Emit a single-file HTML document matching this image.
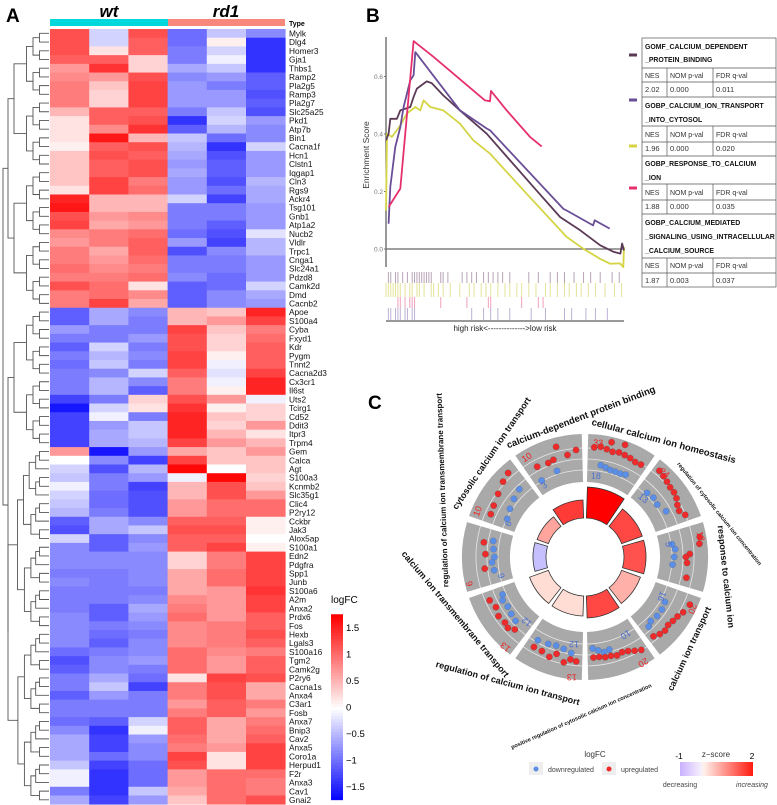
<!DOCTYPE html>
<html><head><meta charset="utf-8"><style>
html,body{margin:0;padding:0;background:#fff;}
svg{display:block;font-family:"Liberation Sans",sans-serif;}
</style></head><body>
<svg id="fig" width="777" height="805" viewBox="0 0 777 805" xmlns="http://www.w3.org/2000/svg">
<g id="pa">
<text x="6" y="22" font-size="19" font-weight="bold">A</text>
<text x="109" y="17" font-size="17" font-weight="bold" font-style="italic" text-anchor="middle">wt</text>
<text x="226" y="17" font-size="17" font-weight="bold" font-style="italic" text-anchor="middle">rd1</text>
<rect x="50" y="19" width="118" height="7" fill="#00d8dc"/>
<rect x="168" y="19" width="117" height="7" fill="#f8877c"/>
<text x="289" y="26" font-size="7" font-weight="bold">Type</text>
</g>
<g id="pb">
<text x="366" y="22" font-size="19" font-weight="bold">B</text>
</g>
<g id="pc">
<text x="368" y="409" font-size="19" font-weight="bold">C</text>
</g>
</svg>
<script>
// ---------- Panel A data ----------
const genes=["Mylk","Dlg4","Homer3","Gja1","Thbs1","Ramp2","Pla2g5","Ramp3","Pla2g7","Slc25a25","Pkd1","Atp7b","Bin1","Cacna1f","Hcn1","Clstn1","Iqgap1","Cln3","Rgs9","Ackr4","Tsg101","Gnb1","Atp1a2","Nucb2","Vldlr","Trpc1","Cnga1","Slc24a1","Pdzd8","Camk2d","Dmd","Cacnb2","Apoe","S100a4","Cyba","Fxyd1","Kdr","Pygm","Tnnt2","Cacna2d3","Cx3cr1","Il6st","Uts2","Tcirg1","Cd52","Ddit3","Itpr3","Trpm4","Gem","Calca","Agt","S100a3","Kcnmb2","Slc35g1","Clic4","P2ry12","Cckbr","Jak3","Alox5ap","S100a1","Edn2","Pdgfra","Spp1","Junb","S100a6","A2m","Anxa2","Prdx6","Fos","Hexb","Lgals3","S100a16","Tgm2","Camk2g","P2ry6","Cacna1s","Anxa4","C3ar1","Fosb","Anxa7","Bnip3","Cav2","Anxa5","Coro1a","Herpud1","F2r","Anxa3","Cav1","Gnai2"];
const logfc=[
[1.2,-0.3,1.2,-1.0,-0.4,-0.8],[1.2,-0.3,1.1,-1.0,0.1,-1.4],[1.2,0.2,1.1,-0.9,-0.3,-1.4],[1.1,1.1,0.3,-0.9,-0.1,-1.4],[0.7,1.4,0.3,-0.6,-0.4,-1.4],
[0.8,0.7,1.2,-0.8,-0.7,-1.1],[0.9,0.4,1.3,-0.7,-0.9,-1.1],[0.9,0.3,1.3,-0.7,-0.7,-1.2],[0.9,0.3,1.3,-0.7,-0.7,-1.1],[0.5,1.1,1.1,-0.9,-0.4,-1.2],
[0.2,1.1,1.2,-1.4,-0.3,-0.7],[0.2,0.8,1.4,-1.1,-0.5,-0.8],[0.2,1.6,0.5,-0.4,-1.0,-0.8],[0.1,1.1,1.2,-0.5,-1.4,-0.3],[0.4,1.2,1.1,-0.6,-1.2,-0.7],
[0.4,1.1,1.2,-0.7,-1.1,-0.7],[0.4,1.1,1.2,-0.6,-1.1,-0.7],[0.4,1.3,0.9,-0.7,-1.2,-0.5],[0.2,1.3,1.0,-0.7,-1.0,-0.6],[1.5,0.5,0.5,-0.3,-1.3,-0.6],
[1.6,0.5,0.5,-0.9,-0.9,-0.7],[1.2,0.7,0.8,-0.9,-0.9,-0.7],[1.3,0.6,0.7,-0.9,-1.1,-0.7],[0.8,0.9,1.0,-1.0,-1.2,-0.2],[0.7,0.9,1.1,-0.7,-1.3,-0.5],
[0.9,0.6,1.1,-1.2,-0.8,-0.5],[0.9,0.7,1.0,-0.9,-0.9,-0.7],[1.0,0.8,0.9,-0.9,-0.9,-0.7],[0.9,0.9,1.0,-0.8,-1.0,-0.7],[1.2,1.0,0.2,-1.1,-1.0,-0.3],
[0.9,1.0,0.8,-1.1,-0.8,-0.6],[0.9,1.3,0.6,-1.1,-0.8,-0.7],[-1.1,-0.6,-0.8,0.5,0.4,1.5],[-1.1,-0.6,-0.9,0.5,0.7,1.3],[-0.7,-0.9,-0.9,1.3,0.4,0.9],
[-0.9,-0.9,-0.7,1.2,0.3,1.0],[-1.1,-0.3,-0.9,1.2,0.3,1.1],[-0.9,-0.5,-0.8,1.3,0.1,1.1],[-1.0,-0.4,-0.9,1.3,-0.1,1.1],[-0.9,-0.8,-0.3,1.1,-0.2,1.3],
[-0.9,-0.5,-0.8,0.9,-0.1,1.5],[-0.9,-0.5,-1.1,0.9,0.1,1.5],[-1.3,-0.9,0.3,1.2,0.7,-0.1],[-1.6,-0.3,0.2,1.4,0.1,0.3],[-1.3,-0.1,-0.9,1.5,0.4,0.3],
[-1.3,-0.7,-0.4,1.5,0.3,0.7],[-1.3,-0.6,-0.4,1.5,0.5,0.2],[-1.3,-0.6,-0.5,1.3,0.7,0.5],[0.7,-1.6,-0.7,0.6,0.4,0.7],[0.0,-0.8,-1.3,1.3,0.4,0.4],
[-0.3,-1.2,-0.5,1.7,0.0,0.4],[-0.4,-0.9,-0.7,-0.1,1.7,0.3],[-0.1,-0.9,-1.3,0.5,1.2,0.4],[-0.3,-1.0,-1.2,0.5,1.2,0.7],[-0.4,-1.0,-1.2,0.7,1.0,1.0],
[-0.5,-0.9,-1.2,0.7,1.0,1.0],[-1.1,-0.6,-0.8,1.1,1.1,0.1],[-1.2,-0.6,-0.4,1.2,1.2,0.1],[-0.3,-1.1,-0.8,1.1,1.1,0.0],[-0.8,-1.1,-0.7,1.1,1.3,0.1],
[-0.8,-0.8,-0.8,0.3,0.9,1.3],[-0.8,-0.8,-0.8,0.3,0.9,1.3],[-0.9,-0.9,-0.8,0.6,1.0,1.3],[-0.8,-0.9,-0.8,0.6,1.0,1.3],[-0.9,-0.9,-0.9,0.6,0.7,1.4],
[-0.9,-0.9,-0.8,0.8,0.7,1.3],[-0.9,-1.1,-0.6,0.9,0.7,1.3],[-0.8,-1.1,-0.7,1.0,0.7,1.1],[-0.8,-0.9,-0.8,0.8,0.9,1.1],[-0.8,-1.0,-0.9,0.8,0.9,1.2],
[-0.8,-1.1,-0.8,0.8,0.9,1.1],[-1.0,-0.9,-0.8,1.0,0.8,0.9],[-1.2,-0.8,-0.7,1.0,0.7,1.1],[-1.1,-0.8,-0.9,1.0,0.7,1.1],[-0.9,-0.6,-1.0,0.2,1.3,1.2],
[-0.9,-0.4,-1.3,0.9,1.2,0.6],[-1.1,-0.7,-0.9,0.9,1.2,0.6],[-0.9,-0.9,-0.9,0.7,1.1,0.9],[-0.9,-0.9,-0.9,0.9,1.1,0.7],[-1.0,-1.1,-0.3,1.1,0.6,0.9],
[-0.8,-1.4,-0.1,1.1,0.6,1.0],[-0.6,-1.3,-0.7,1.0,0.6,1.1],[-0.6,-1.3,-0.8,0.9,0.7,1.3],[-0.6,-1.0,-0.8,1.3,0.2,1.3],[-0.4,-1.3,-1.0,1.2,0.2,1.3],
[-0.1,-1.4,-1.0,0.7,1.0,1.0],[-0.1,-1.4,-1.0,0.7,1.0,0.9],[-0.9,-1.4,-0.4,0.6,1.0,0.9],[-0.6,-1.3,-0.7,0.4,1.0,1.2]];
const legendTicks=[1.5,1,0.5,0,-0.5,-1,-1.5];

// ---------- Panel B data ----------
const esRank1=[0,0.011,0.018,0.046,0.06,0.102,0.116,0.13,0.171,0.192,0.241,0.311,0.423,0.632,0.732,0.816,0.9,0.957,0.985,0.992,1.0];
const esGomf=[0.378,0.401,0.453,0.453,0.482,0.494,0.529,0.558,0.583,0.577,0.534,0.482,0.401,0.204,0.111,0.065,0.013,-0.01,-0.016,0.019,-0.005];
const esRank2=[0.011,0.018,0.039,0.06,0.074,0.102,0.116,0.123,0.311,0.423,0.437,0.745,0.759,0.87,0.877,0.94];
const esCytosol=[0.088,0.216,0.355,0.424,0.494,0.587,0.604,0.685,0.482,0.419,0.413,0.14,0.134,0.082,0.1,0.071];
const esRank3=[0,0.004,0.025,0.06,0.088,0.123,0.144,0.158,0.186,0.241,0.311,0.367,0.437,0.591,0.759,0.829,0.899,0.941,0.983,0.997,1.0];
const esResponse=[0.134,0.401,0.39,0.43,0.471,0.494,0.482,0.517,0.494,0.482,0.436,0.378,0.332,0.192,0.042,0.001,-0.034,-0.051,-0.05,-0.063,0.007];
const esRank4=[0.011,0.06,0.116,0.2,0.416,0.437,0.441,0.507,0.605,0.654];
const esMediated=[0.146,0.21,0.723,0.668,0.517,0.514,0.55,0.482,0.39,0.357];
const esTicks=[0,0.2,0.4,0.6];
const hits1=[0.01,0.02,0.04,0.05,0.07,0.09,0.11,0.12,0.13,0.14,0.15,0.16,0.17,0.18,0.19,0.23,0.24,0.26,0.32,0.34,0.36,0.38,0.41,0.43,0.45,0.47,0.49,0.52,0.6,0.64,0.69,0.72,0.75,0.79,0.83,0.86,0.9,0.95,0.98];
const hits2=[0.0,0.01,0.02,0.03,0.04,0.05,0.06,0.08,0.1,0.11,0.13,0.14,0.16,0.19,0.2,0.22,0.24,0.27,0.31,0.35,0.37,0.4,0.42,0.44,0.47,0.5,0.52,0.55,0.57,0.6,0.63,0.67,0.69,0.72,0.75,0.77,0.8,0.82,0.85,0.88,0.92,0.96,0.99];
const hits3=[0.05,0.06,0.08,0.1,0.11,0.12,0.23,0.34,0.43,0.44,0.57,0.64,0.66];
const hits4=[0.01,0.02,0.04,0.05,0.06,0.08,0.09,0.11,0.12,0.36,0.41,0.44,0.47,0.52,0.61,0.67,0.75,0.78,0.84,0.88,0.93];

// ---------- Panel C data ----------
const terms=["cellular calcium ion homeostasis","regulation of cytosolic calcium ion concentration","response to calcium ion","calcium ion transport","positive regulation of cytosolic calcium ion concentration","regulation of calcium ion transport","calcium ion transmembrane transport","regulation of calcium ion transmembrane transport","cytosolic calcium ion transport","calcium-dependent protein binding"];
const upCount=[33,24,12,20,20,13,13,6,10,10];
const downCount=[18,13,5,16,10,12,12,6,6,3];
const zscore=[2.0,1.4,1.3,0.5,1.4,0.12,0.12,-0.7,0.6,1.5];
const barSize=[31,22,22,20,22,20,20,13,12,18];
const dotsUp=[
[[0.1,1.0],[0.2,1.1],[0.3,1.0],[0.4,0.9],[0.5,1.0],[0.6,0.95],[0.7,0.9],[0.8,0.8],[0.9,0.85],[0.35,1.6],[0.55,1.7]],
[[0.1,1.3],[0.2,1.2],[0.3,1.1],[0.4,1.0],[0.5,1.0],[0.6,0.9],[0.7,0.7],[0.8,0.6],[0.9,0.9]],
[[0.2,1.5],[0.3,1.4],[0.45,0.6],[0.5,0.3],[0.6,0.4],[0.85,0.5]],
[[0.15,1.4],[0.3,1.2],[0.4,1.0],[0.5,0.9],[0.6,0.8],[0.7,0.9],[0.8,0.8],[0.9,0.6]],
[[0.1,0.9],[0.2,0.7],[0.3,0.5],[0.4,0.4],[0.5,0.5],[0.6,0.4],[0.7,0.4],[0.8,0.3],[0.9,0.3]],
[[0.1,0.6],[0.2,0.5],[0.3,0.8],[0.45,0.3],[0.55,0.7],[0.7,0.5],[0.85,0.5]],
[[0.2,0.3],[0.3,0.6],[0.4,0.5],[0.55,0.6],[0.7,0.4],[0.85,0.6]],
[[0.3,0.3],[0.55,0.2],[0.75,0.4]],
[[0.15,0.5],[0.3,0.6],[0.5,0.8],[0.7,1.1],[0.85,1.3]],
[[0.2,0.4],[0.4,0.3],[0.5,0.4],[0.6,1.3],[0.75,0.5],[0.9,0.8]]];
const dotsDown=[
[[0.25,-0.3],[0.35,-0.4],[0.45,-0.5],[0.55,-0.5],[0.65,-0.5],[0.75,-0.4]],
[[0.2,-0.6],[0.35,-0.5],[0.5,-0.6],[0.7,-0.3]],
[[0.25,-0.7],[0.35,-0.5],[0.5,-0.6],[0.65,-0.7]],
[[0.3,-0.4],[0.45,-0.3],[0.6,-0.3],[0.75,-0.4],[0.85,-0.2]],
[[0.6,-0.1],[0.7,0.0],[0.8,-0.2],[0.9,-0.4]],
[[0.2,0.0],[0.35,-0.2],[0.5,-0.3],[0.65,-0.2],[0.85,-0.1]],
[[0.3,-0.2],[0.45,-0.3],[0.6,-0.4],[0.75,-0.3],[0.85,-0.5]],
[[0.25,-0.4],[0.4,-0.3],[0.5,-0.5],[0.65,-0.4],[0.8,-0.3]],
[[0.2,-0.8],[0.4,-0.6],[0.6,-0.4],[0.8,-0.2]],
[[0.15,-0.7],[0.5,-0.5]]];

const NS="http://www.w3.org/2000/svg";
function mk(tag,attrs,parent){const e=document.createElementNS(NS,tag);for(const k in attrs)e.setAttribute(k,attrs[k]);parent.appendChild(e);return e;}
const pa=document.getElementById('pa'),pb=document.getElementById('pb'),pc=document.getElementById('pc');

// ---- Heatmap ----
const hx0=50,cw=39.2,hy0=29,rh=8.71;
function fcColor(v){const t=Math.max(-1,Math.min(1,v/1.75));
 if(t>=0){const g=Math.round(255*(1-t));return `rgb(255,${g},${g})`;}
 const g=Math.round(255*(1+t));return `rgb(${g},${g},255)`;}
const xCol=i=>hx0+i*cw, yRow=r=>hy0+r*rh;
logfc.forEach((row,r)=>{row.forEach((v,c)=>{
 const e=mk('rect',{x:xCol(c),y:yRow(r),width:cw+0.4,height:rh+0.4,fill:fcColor(v)},pa);
 
 
});
 const t=mk('text',{x:289,y:yRow(r)+rh-1.2,'font-size':8.3,fill:'#111'},pa);t.textContent=genes[r];
 
 
});
const dg=mk('g',{stroke:'#555','stroke-width':0.9,fill:'none'},pa);


function dend(a,b,depth){
 if(a===b) return [49,yRow(a)+rh/2];
 let m;
 if(depth===0) m=31; else if(depth===1&&a===32) m=47; else m=Math.floor((a+b)/2);
 const L=dend(a,m,depth+1),R=dend(m+1,b,depth+1);
 const n=b-a+1;
 const x=depth===0?3:Math.max(8,46-Math.log2(n)*6.5-(depth<3?6:0));
 mk('path',{d:`M${L[0]},${L[1]}H${x}V${R[1]}H${R[0]}`},dg);
 return [x,(L[1]+R[1])/2];
}
dend(0,88,0);
const lgY=v=>707-v*53;
mk('text',{x:331,y:603,'font-size':10},pa).textContent='logFC';
for(let i=0;i<60;i++){const v=1.75-3.5*i/60;const e=mk('rect',{x:331,y:lgY(v),width:12,height:3.5,fill:fcColor(v)},pa);
 
 }
legendTicks.forEach(v=>{const t=mk('text',{x:346,y:lgY(v)+3.5,'font-size':9.5},pa);t.textContent=(v<0?'\u2212'+Math.abs(v):v);
 
 });

// ---- Panel B ----
const bx0=386,bx1=624;
const bX=f=>bx0+f*(bx1-bx0), bY=v=>249-v*287.5;
mk('line',{x1:bx0,y1:37,x2:bx0,y2:267,stroke:'#333','stroke-width':1},pb);
mk('line',{x1:bx0,y1:bY(0),x2:bx1,y2:bY(0),stroke:'#666','stroke-width':1.2},pb);
esTicks.forEach(v=>{const t=mk('text',{x:383,y:bY(v)+2.5,'font-size':6.5,fill:'#777','text-anchor':'end'},pb);t.textContent=v.toFixed(1);
 
 
 mk('line',{x1:bx0-2,x2:bx0,y1:bY(v),y2:bY(v),stroke:'#777'},pb);});
const yl=mk('text',{x:0,y:0,'font-size':8.5,fill:'#333','text-anchor':'middle',transform:'translate(369,155) rotate(-90)'},pb);yl.textContent='Enrichment Score';

function esLine(xs,ys,col,name){const d=xs.map((f,i)=>(i?'L':'M')+bX(f).toFixed(1)+','+bY(ys[i]).toFixed(1)).join('');
 const p=mk('path',{d:d,stroke:col,'stroke-width':1.8,fill:'none','stroke-linejoin':'round'},pb);
 
 }
esLine(esRank3,esResponse,'#d4d445','es-line-response');
esLine(esRank1,esGomf,'#5b3a56','es-line-gomf');
esLine(esRank2,esCytosol,'#6a4e97','es-line-cytosol');
esLine(esRank4,esMediated,'#e6306e','es-line-mediated');
const rugs=[[hits1,272,283,'#b9a4b6'],[hits2,283,297,'#e3e39a'],[hits3,297,308,'#f0a0bc'],[hits4,308,320,'#bdb1d6']];
rugs.forEach(([h,y1,y2,c])=>h.forEach(f=>{const l=mk('line',{x1:bX(f),x2:bX(f),y1:y1,y2:y2,stroke:c,'stroke-width':1},pb);
 
 }));
mk('line',{x1:bx0,y1:321,x2:bx1,y2:321,stroke:'#333'},pb);
mk('text',{x:505,y:331,'font-size':8,'text-anchor':'middle',fill:'#222'},pb).textContent='high risk<-------------->low risk';
const tb=mk('g',{stroke:'#555','stroke-width':0.7,fill:'none'},pb);

mk('rect',{x:642,y:38,width:134,height:249},tb);
[68,82,97,126,142,156,184,200,214,258,273].forEach(y=>mk('line',{x1:642,x2:776,y1:y,y2:y},tb));
[[68,97],[126,156],[184,214],[258,287]].forEach(([a,b])=>{mk('line',{x1:667,x2:667,y1:a,y2:b},tb);mk('line',{x1:713,x2:713,y1:a,y2:b},tb);});
const heads=[[['GOMF_CALCIUM_DEPENDENT',49],['_PROTEIN_BINDING',62]],[['GOBP_CALCIUM_ION_TRANSPORT',108],['_INTO_CYTOSOL',122]],[['GOBP_RESPONSE_TO_CALCIUM',166],['_ION',180]],[['GOBP_CALCIUM_MEDIATED',225],['_SIGNALING_USING_INTRACELLULAR',239],['_CALCIUM_SOURCE',253]]];
heads.forEach(h=>h.forEach(([s,y])=>{const t=mk('text',{x:645,y:y,'font-size':6.9,'font-weight':'bold',fill:'#111'},pb);t.textContent=s;}));
const nesVals=[['2.02','0.000','0.011'],['1.96','0.000','0.020'],['1.88','0.000','0.035'],['1.87','0.003','0.037']];
[[78,92],[137,151],[195,209],[268,283]].forEach(([y1,y2],i)=>{
 ['NES','NOM p-val','FDR q-val'].forEach((s,j)=>{mk('text',{x:[645,670,716][j],y:y1,'font-size':7,fill:'#333'},pb).textContent=s;});
 nesVals[i].forEach((s,j)=>{mk('text',{x:[645,670,716][j],y:y2,'font-size':7.5,fill:'#333'},pb).textContent=s;});
});
[['#5b3a56',55],['#6a4e97',100],['#d4d445',146],['#e6306e',188]].forEach(([c,y])=>{const r=mk('rect',{x:629,y:y-1.5,width:8,height:3,fill:c},pb);
 });

// ---- Panel C ----
const cx=585,cy=557,deg=Math.PI/180;
const P=(r,a)=>[cx+r*Math.sin(a*deg),cy-r*Math.cos(a*deg)];
function arcPath(r0,r1,a0,a1){const [x0,y0]=P(r1,a0),[x1,y1]=P(r1,a1),[x2,y2]=P(r0,a1),[x3,y3]=P(r0,a0);
 return `M${x0},${y0}A${r1},${r1} 0 0 1 ${x1},${y1}L${x2},${y2}A${r0},${r0} 0 0 0 ${x3},${y3}Z`;}
function zColor(z){if(z<0){const t=Math.min(1,-z);return `rgb(${Math.round(255-80*t)},${Math.round(255-90*t)},255)`;}
 const t=Math.min(1,z/2);return `rgb(255,${Math.round(235*(1-t))},${Math.round(225*(1-t))})`;}
const rDot=v=>97+v*13;
terms.forEach((term,i)=>{
 const a0=i*36+1.5,a1=i*36+34.5;
 const g=mk('path',{d:arcPath(75,123,a0,a1),fill:'#a9a9a9'},pc);
 
 [87,98,109].forEach(r=>{const [x0,y0]=P(r,a0),[x1,y1]=P(r,a1);mk('path',{d:`M${x0},${y0}A${r},${r} 0 0 1 ${x1},${y1}`,stroke:'#e8e8e8','stroke-width':0.8,fill:'none'},pc);});
 const b=mk('path',{d:arcPath(39,39+barSize[i],i*36+2,i*36+34),fill:zColor(zscore[i]),stroke:'#333','stroke-width':0.8},pc);
 
 dotsDown[i].forEach(([t,v])=>{const [x,y]=P(rDot(v),a0+t*(a1-a0));const d=mk('circle',{cx:x,cy:y,r:3.2,fill:'#5b8ee6',stroke:'#666','stroke-width':0.3},pc);
  });
 dotsUp[i].forEach(([t,v])=>{const [x,y]=P(rDot(v),a0+t*(a1-a0));const d=mk('circle',{cx:x,cy:y,r:3.2,fill:'#ee2a2a',stroke:'#555','stroke-width':0.3},pc);
  });
 const [ux,uy]=P(115,a0+5),[dx,dy]=P(82,a0+6);
 const tu=mk('text',{x:0,y:0,'font-size':9,fill:'#ee2222','text-anchor':'middle',transform:`translate(${ux},${uy+3}) rotate(${i*36+3})`},pc);tu.textContent=upCount[i];
 
 const td=mk('text',{x:0,y:0,'font-size':9,fill:'#4a6fd0','text-anchor':'middle',transform:`translate(${dx},${dy+3}) rotate(${i*36+3})`},pc);td.textContent=downCount[i];
 
});
const labelPos=[[663,441,15,9.5],[718,512,51,5.6],[723,574,84,9],[692,647,-65,9],[582,715,-24,5.6],[507,683,15,9],[453,613,50,9],[445,487,-92,8],[494,452,-56,9],[582,417,-21,9.5]];
terms.forEach((term,i)=>{const [x,y,a,fs]=labelPos[i];
 const t=mk('text',{x:0,y:0,'font-size':fs,'font-weight':'bold','text-anchor':'middle',fill:'#111',transform:`translate(${x},${y+3}) rotate(${a})`},pc);t.textContent=term;
 });
mk('text',{x:595,y:757,'font-size':8,'text-anchor':'middle',fill:'#333'},pc).textContent='logFC';
mk('rect',{x:529,y:762,width:14,height:13,fill:'#eee'},pc);
mk('circle',{cx:536,cy:769,r:2.5,fill:'#5b8ee6'},pc);
mk('text',{x:548,y:772,'font-size':7,fill:'#444'},pc).textContent='downregulated';
mk('rect',{x:602,y:762,width:14,height:13,fill:'#eee'},pc);
mk('circle',{cx:609,cy:769,r:2.5,fill:'#ee2a2a'},pc);
mk('text',{x:621,y:772,'font-size':7,fill:'#444'},pc).textContent='upregulated';
const zd=mk('defs',{},pc);
const lg=mk('linearGradient',{id:'zg',x1:0,x2:1,y1:0,y2:0},zd);
[[0,'#c9b0ff'],[0.28,'#f4eefc'],[0.33,'#fff0ea'],[1,'#ff1a10']].forEach(([o,c])=>mk('stop',{offset:o,'stop-color':c},lg));
const zr=mk('rect',{x:680,y:762,width:73,height:14,fill:'url(#zg)'},pc);

mk('text',{x:679,y:759,'font-size':8.5,'text-anchor':'middle'},pc).textContent='-1';
mk('text',{x:716,y:757,'font-size':8,'text-anchor':'middle',fill:'#333'},pc).textContent='z\u2212score';
mk('text',{x:752,y:759,'font-size':8.5,'text-anchor':'middle'},pc).textContent='2';
mk('text',{x:680,y:787,'font-size':7,'text-anchor':'middle',fill:'#444'},pc).textContent='decreasing';
mk('text',{x:752,y:787,'font-size':7,'text-anchor':'middle','font-style':'italic',fill:'#444'},pc).textContent='increasing';
</script>
</body></html>
